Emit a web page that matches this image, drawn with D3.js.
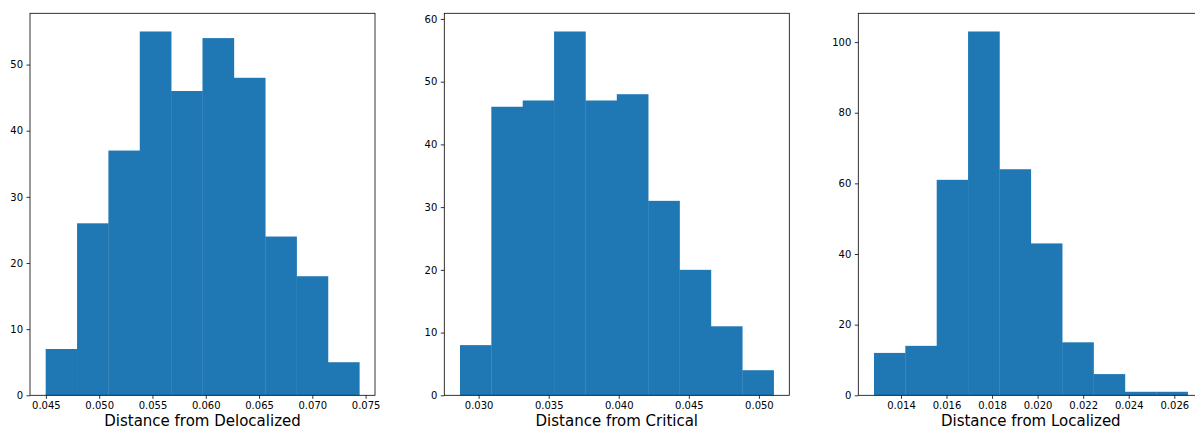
<!DOCTYPE html>
<html><head><meta charset="utf-8">
<script src="https://cdn.jsdelivr.net/npm/d3@7"></script>
<style>
html,body{margin:0;padding:0;background:#fff;}
text{font-family:"DejaVu Sans",sans-serif;fill:#000;}
</style></head>
<body>
<svg id="chart" width="1195" height="430"></svg>
<script>
// ---- data ----
const titles = ["Distance from Delocalized", "Distance from Critical", "Distance from Localized"];
const countsDeloc = [7, 26, 37, 55, 46, 54, 48, 24, 18, 5];
const countsCrit  = [8, 46, 47, 58, 47, 48, 31, 20, 11, 4];
const countsLoc   = [12, 14, 61, 103, 64, 43, 15, 6, 1, 1];
const rangeDeloc = [0.04498, 0.07441];
const rangeCrit  = [0.02867, 0.05105];
const rangeLoc   = [0.012815, 0.026585];
const xTicksDeloc = [0.045, 0.050, 0.055, 0.060, 0.065, 0.070, 0.075];
const xTicksCrit  = [0.030, 0.035, 0.040, 0.045, 0.050];
const xTicksLoc   = [0.014, 0.016, 0.018, 0.020, 0.022, 0.024, 0.026];
const yTicksDeloc = [0, 10, 20, 30, 40, 50];
const yTicksCrit  = [0, 10, 20, 30, 40, 50, 60];
const yTicksLoc   = [0, 20, 40, 60, 80, 100];

const panels = [
  {title: titles[0], counts: countsDeloc, range: rangeDeloc, xt: xTicksDeloc, yt: yTicksDeloc, left: 30},
  {title: titles[1], counts: countsCrit,  range: rangeCrit,  xt: xTicksCrit,  yt: yTicksCrit,  left: 444.3},
  {title: titles[2], counts: countsLoc,   range: rangeLoc,   xt: xTicksLoc,   yt: yTicksLoc,   left: 858.3}
];

const W = 345, plotTop = 13.3, plotBottom = 395.3;
const svg = d3.select("#chart");

panels.forEach(p => {
  const n = p.counts.length;
  const lo = p.range[0], hi = p.range[1];
  const step = (hi - lo) / n;
  const bins = p.counts.map((c, i) => ({x0: lo + i * step, x1: lo + (i + 1) * step, c}));
  const pad = (hi - lo) * 0.05;
  const x = d3.scaleLinear().domain([lo - pad, hi + pad]).range([p.left, p.left + W]);
  const y = d3.scaleLinear().domain([0, d3.max(p.counts) * 1.05]).range([plotBottom, plotTop]);

  const g = svg.append("g");
  g.selectAll("rect.bar").data(bins).join("rect")
    .attr("class", "bar")
    .attr("x", d => x(d.x0))
    .attr("width", d => x(d.x1) - x(d.x0) + 0.3)
    .attr("y", d => y(d.c))
    .attr("height", d => y(0) - y(d.c))
    .attr("fill", "#1f77b4");

  const xa = g.append("g").attr("transform", `translate(0,${plotBottom})`)
    .call(d3.axisBottom(x).tickValues(p.xt).tickFormat(d3.format(".3f")).tickSize(3.5).tickPadding(3.5));
  const ya = g.append("g").attr("transform", `translate(${p.left},0)`)
    .call(d3.axisLeft(y).tickValues(p.yt).tickFormat(d3.format("d")).tickSize(3.5).tickPadding(3.5));
  [xa, ya].forEach(a => {
    a.select(".domain").remove();
    a.selectAll("line").attr("stroke", "#000").attr("stroke-width", 0.8);
    a.selectAll("text").attr("font-size", "10px").attr("font-family", "DejaVu Sans").attr("fill", "#000");
  });

  // frame
  g.append("rect").attr("x", p.left).attr("y", plotTop).attr("width", W).attr("height", plotBottom - plotTop)
    .attr("fill", "none").attr("stroke", "#000").attr("stroke-width", 0.8);

  g.append("text").attr("x", p.left + W / 2).attr("y", 426)
    .attr("text-anchor", "middle").attr("font-size", "15px").text(p.title);
});
</script>
</body></html>
